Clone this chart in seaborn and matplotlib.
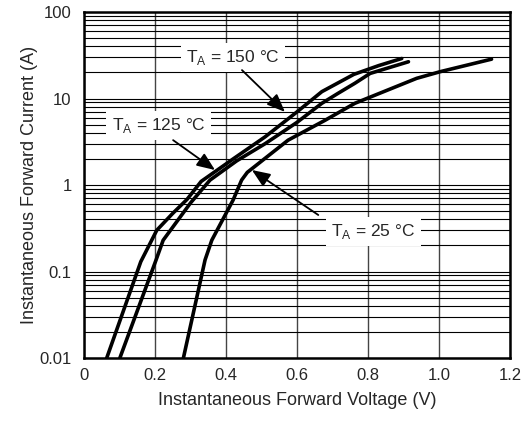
import numpy as np
import pandas as pd
import matplotlib
matplotlib.use('Agg')
import matplotlib.pyplot as plt
import seaborn as sns
from matplotlib.ticker import FixedLocator, LogLocator, NullFormatter

# Curve data (V, A)
v_150 = [0.064, 0.16, 0.205, 0.25, 0.29, 0.33, 0.42, 0.51, 0.60, 0.67, 0.76, 0.83, 0.895]
i_150 = [0.01, 0.13, 0.30, 0.47, 0.68, 1.1, 2.0, 3.6, 7.0, 12.0, 19.0, 24.0, 29.0]

v_125 = [0.101, 0.203, 0.223, 0.30, 0.355, 0.43, 0.51, 0.60, 0.67, 0.716, 0.763, 0.806, 0.914]
i_125 = [0.01, 0.136, 0.23, 0.62, 1.14, 1.9, 3.0, 5.3, 8.8, 11.5, 15.0, 19.5, 26.6]

v_25 = [0.280, 0.341, 0.360, 0.42, 0.444, 0.46, 0.575, 0.679, 0.763, 0.937, 1.003, 1.148]
i_25 = [0.01, 0.136, 0.23, 0.67, 1.14, 1.4, 3.3, 5.6, 8.8, 17.1, 20.4, 28.5]

x_ticks = [0, 0.2, 0.4, 0.6, 0.8, 1.0, 1.2]
x_tick_labels = ['0', '0.2', '0.4', '0.6', '0.8', '1.0', '1.2']
y_ticks = [0.01, 0.1, 1, 10, 100]
y_tick_labels = ['0.01', '0.1', '1', '10', '100']

curves = pd.concat([
    pd.DataFrame({'V': v_150, 'I': i_150, 'T': '150'}),
    pd.DataFrame({'V': v_125, 'I': i_125, 'T': '125'}),
    pd.DataFrame({'V': v_25, 'I': i_25, 'T': '25'}),
])

sns.set_style('white')
plt.rcParams['font.family'] = ['Liberation Sans', 'DejaVu Sans']
plt.rcParams['mathtext.fontset'] = 'custom'
plt.rcParams['mathtext.rm'] = 'Liberation Sans'

fig = plt.figure(figsize=(5.24, 4.21), dpi=100)
ax = fig.add_axes([84 / 524, 63 / 421, 426 / 524, 346 / 421])

ax.set_yscale('log')
ax.set_xlim(0, 1.2)
ax.set_ylim(0.01, 100)

# grid: gray verticals, black log horizontals
ax.xaxis.set_major_locator(FixedLocator(x_ticks))
ax.yaxis.set_major_locator(FixedLocator(y_ticks))
ax.yaxis.set_minor_locator(LogLocator(base=10, subs=np.arange(2, 10)))
ax.yaxis.set_minor_formatter(NullFormatter())
ax.grid(axis='x', which='major', color='#444444', lw=1.0)
ax.grid(axis='y', which='both', color='black', lw=0.8)
ax.set_axisbelow(True)

sns.lineplot(data=curves, x='V', y='I', units='T', estimator=None, sort=False,
             color='black', lw=2.6, ax=ax, legend=False)

ax.set_xticklabels(x_tick_labels)
ax.set_yticklabels(y_tick_labels)
ax.tick_params(axis='both', which='both', length=0, labelsize=12)
ax.tick_params(axis='x', pad=7)
ax.tick_params(axis='y', pad=9)
ax.set_xlabel('Instantaneous Forward Voltage (V)', fontsize=13, labelpad=7)
ax.set_ylabel('Instantaneous Forward Current (A)', fontsize=13, labelpad=1)

for s in ax.spines.values():
    s.set_color('black')
    s.set_linewidth(1.8)

box = dict(boxstyle='square,pad=0.3', fc='white', ec='none')
arrow = dict(arrowstyle='-|>,head_length=1.1,head_width=0.45', color='black',
             lw=1.3, shrinkA=0, shrinkB=0)

ax.annotate(r'T$_\mathregular{A}$ = 150 °C', xy=(0.566, 7.0), xytext=(0.42, 30),
            fontsize=12.5, ha='center', va='center', bbox=box, zorder=5)
ax.annotate('', xy=(0.566, 7.0), xytext=(0.445, 21.3), arrowprops=arrow, zorder=5)

ax.annotate(r'T$_\mathregular{A}$ = 125 °C', xy=(0.369, 1.49), xytext=(0.21, 4.9),
            fontsize=12.5, ha='center', va='center', bbox=box, zorder=5)
ax.annotate('', xy=(0.369, 1.49), xytext=(0.251, 3.3), arrowprops=arrow, zorder=5)

ax.annotate(r'T$_\mathregular{A}$ = 25 °C', xy=(0.473, 1.49), xytext=(0.815, 0.29),
            fontsize=12.5, ha='center', va='center', bbox=box, zorder=5)
ax.annotate('', xy=(0.473, 1.49), xytext=(0.66, 0.45), arrowprops=arrow, zorder=5)

fig.savefig('out.png', dpi=100)
